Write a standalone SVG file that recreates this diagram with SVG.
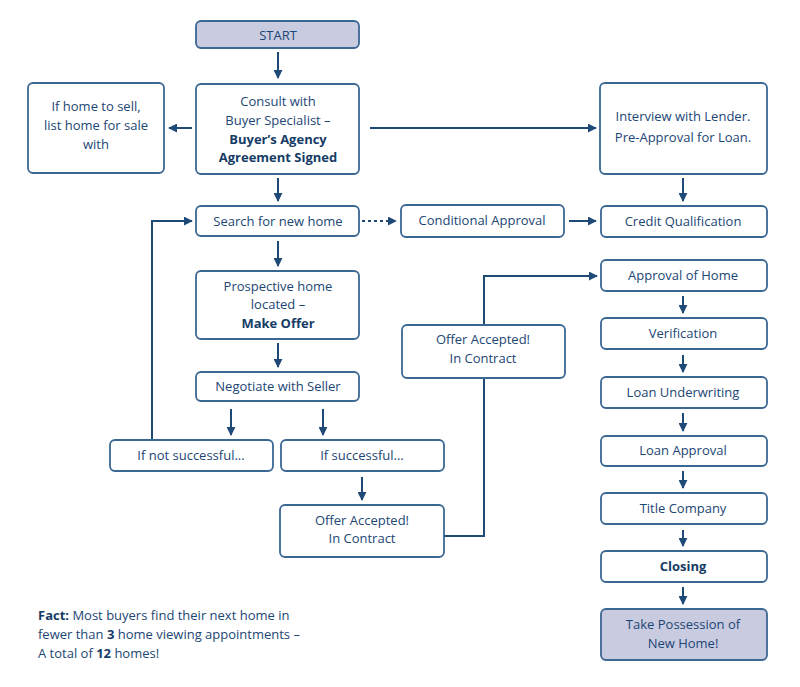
<svg xmlns="http://www.w3.org/2000/svg" width="800" height="687" viewBox="0 0 800 687">
<defs>
<marker id="ah" viewBox="0 0 10 10" refX="9" refY="5" markerWidth="4.5" markerHeight="4.5" orient="auto" markerUnits="strokeWidth">
<path d="M0,0 L10,5 L0,10 z" fill="#1f4a78"/>
</marker>
</defs>
<style>
.box{fill:#fff;stroke:#3a6793;stroke-width:1.8}
.hl{fill:#c9cbe0;stroke:#3a6793;stroke-width:1.8}
text{font-family:"Open Sans","Noto Sans",sans-serif;font-size:13px;fill:#1c4674;text-anchor:middle}
.b{font-weight:bold;fill:#163c66}
.c{fill:none;stroke:#1f4a78;stroke-width:2}
.d{stroke-dasharray:3,3}
.fact{text-anchor:start}
</style>
<rect width="800" height="687" fill="#fff"/>
<g id="connectors">
<line class="c" x1="278" y1="52" x2="278" y2="78" marker-end="url(#ah)"/>
<line class="c" x1="192" y1="128" x2="169" y2="128" marker-end="url(#ah)"/>
<line class="c" x1="370" y1="128" x2="596" y2="128" marker-end="url(#ah)"/>
<line class="c" x1="683" y1="178" x2="683" y2="201" marker-end="url(#ah)"/>
<line class="c" x1="278" y1="178" x2="278" y2="201" marker-end="url(#ah)"/>
<line class="c d" x1="362" y1="221" x2="396" y2="221" marker-end="url(#ah)"/>
<line class="c" x1="569" y1="221" x2="596" y2="221" marker-end="url(#ah)"/>
<polyline class="c" points="152,440 152,221 192,221" marker-end="url(#ah)"/>
<line class="c" x1="278" y1="241" x2="278" y2="266" marker-end="url(#ah)"/>
<line class="c" x1="278" y1="343" x2="278" y2="367" marker-end="url(#ah)"/>
<line class="c" x1="231" y1="409" x2="231" y2="435" marker-end="url(#ah)"/>
<line class="c" x1="323" y1="409" x2="323" y2="435" marker-end="url(#ah)"/>
<line class="c" x1="362" y1="477" x2="362" y2="500" marker-end="url(#ah)"/>
<polyline class="c" points="444,536 484,536 484,276 597,276" marker-end="url(#ah)"/>
<line class="c" x1="683" y1="296" x2="683" y2="313" marker-end="url(#ah)"/>
<line class="c" x1="683" y1="355" x2="683" y2="372" marker-end="url(#ah)"/>
<line class="c" x1="683" y1="413" x2="683" y2="431" marker-end="url(#ah)"/>
<line class="c" x1="683" y1="471" x2="683" y2="488" marker-end="url(#ah)"/>
<line class="c" x1="683" y1="530" x2="683" y2="546" marker-end="url(#ah)"/>
<line class="c" x1="683" y1="587" x2="683" y2="604" marker-end="url(#ah)"/>
</g>
<g id="start"><rect class="hl" x="196" y="21" width="163" height="27" rx="5"/><text x="278" y="39.5">START</text></g>
<g id="consult"><rect class="box" x="196" y="84" width="163" height="90" rx="5"/>
<text x="278" y="106">Consult with</text><text x="278" y="125">Buyer Specialist –</text>
<text x="278" y="144" class="b">Buyer’s Agency</text><text x="278" y="162" class="b">Agreement Signed</text></g>
<g id="sell"><rect class="box" x="28" y="83" width="136" height="90" rx="5"/>
<text x="96" y="111">If home to sell,</text><text x="96" y="130">list home for sale</text><text x="96" y="149">with</text></g>
<g id="lender"><rect class="box" x="600" y="83" width="167" height="91" rx="5"/>
<text x="683" y="121">Interview with Lender.</text><text x="683" y="142">Pre-Approval for Loan.</text></g>
<g id="credit"><rect class="box" x="601" y="206" width="166" height="31" rx="5"/><text x="683" y="226">Credit Qualification</text></g>
<g id="search"><rect class="box" x="196" y="206" width="163" height="30" rx="5"/><text x="278" y="226">Search for new home</text></g>
<g id="conditional"><rect class="box" x="401" y="205" width="163" height="32" rx="5"/><text x="482" y="225">Conditional Approval</text></g>
<g id="prospective"><rect class="box" x="196" y="271" width="163" height="68" rx="5"/>
<text x="278" y="291">Prospective home</text><text x="278" y="309">located –</text><text x="278" y="328" class="b">Make Offer</text></g>
<g id="negotiate"><rect class="box" x="196" y="372" width="163" height="29" rx="5"/><text x="278" y="391">Negotiate with Seller</text></g>
<g id="notsuccess"><rect class="box" x="110" y="440" width="163" height="31" rx="5"/><text x="191" y="460">If not successful...</text></g>
<g id="success"><rect class="box" x="281" y="440" width="163" height="31" rx="5"/><text x="362" y="460">If successful...</text></g>
<g id="offer1"><rect class="box" x="280" y="505" width="164" height="52" rx="5"/>
<text x="362" y="525">Offer Accepted!</text><text x="362" y="543">In Contract</text></g>
<g id="offer2"><rect class="box" x="402" y="325" width="163" height="53" rx="5"/>
<text x="483" y="344">Offer Accepted!</text><text x="483" y="363">In Contract</text></g>
<g id="approvalhome"><rect class="box" x="601" y="260" width="166" height="31" rx="5"/><text x="683" y="280">Approval of Home</text></g>
<g id="verification"><rect class="box" x="601" y="318" width="166" height="31" rx="5"/><text x="683" y="338">Verification</text></g>
<g id="underwriting"><rect class="box" x="601" y="377" width="166" height="31" rx="5"/><text x="683" y="397">Loan Underwriting</text></g>
<g id="loanapproval"><rect class="box" x="601" y="436" width="166" height="30" rx="5"/><text x="683" y="455">Loan Approval</text></g>
<g id="title"><rect class="box" x="601" y="493" width="166" height="31" rx="5"/><text x="683" y="513">Title Company</text></g>
<g id="closing"><rect class="box" x="601" y="551" width="166" height="31" rx="5"/><text x="683" y="571" class="b">Closing</text></g>
<g id="possession"><rect class="hl" x="601" y="609" width="166" height="51" rx="5"/>
<text x="683" y="629">Take Possession of</text><text x="683" y="648">New Home!</text></g>
<g id="fact">
<text class="fact" x="38" y="620"><tspan class="b">Fact:</tspan> Most buyers find their next home in</text>
<text class="fact" x="38" y="639">fewer than <tspan class="b">3</tspan> home viewing appointments –</text>
<text class="fact" x="38" y="658">A total of <tspan class="b">12</tspan> homes!</text>
</g>
</svg>
